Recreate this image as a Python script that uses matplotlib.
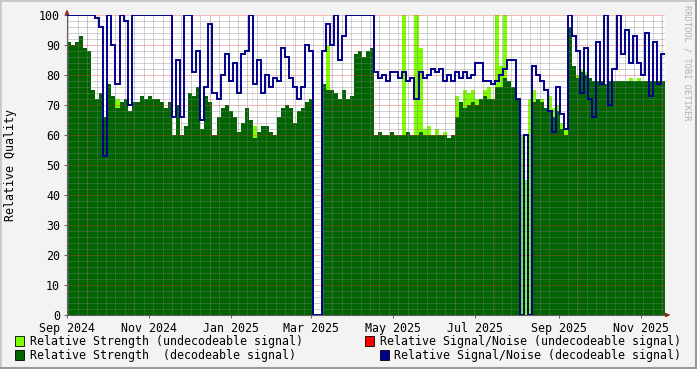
import numpy as np
import pandas as pd
import matplotlib
matplotlib.use('Agg')
import matplotlib.pyplot as plt
import matplotlib.dates as mdates
from matplotlib.ticker import MultipleLocator
from matplotlib.patches import Rectangle

plt.rcParams['font.family'] = ['DejaVu Sans Mono']
plt.rcParams['font.size'] = 8.4

nan = np.nan

# one sample every 3 days, starting 2024-09-01
start = '2024-09-01'
step_days = 3

# Relative Strength (decodeable signal)
strength = [91, 90, 91, 93, 89, 88, 75, 72, 74, 66,
            77, 73, 69, 71, 72, 68, 71, 71, 73, 72,
            73, 72, 72, 71, 69, 71, 60, 70, 60, 63,
            74, 73, 76, 62, 73, 71, 60, 66, 69, 70,
            68, 66, 61, 64, 69, 65, 59, 61, 63, 63,
            61, 60, 66, 69, 70, 69, 64, 68, 69, 71,
            72, 0, 0, 77, 75, 75, 74, 72, 75, 72,
            73, 87, 88, 86, 88, 89, 60, 61, 60, 60,
            61, 60, 60, 60, 61, 60, 60, 61, 60, 60,
            60, 60, 60, 60, 59, 60, 66, 71, 69, 70,
            71, 70, 72, 73, 72, 72, 76, 76, 79, 78,
            76, 72, 0, 0, 0, 71, 72, 71, 69, 68,
            66, 68, 62, 60, 96, 83, 79, 81, 80, 79,
            78, 78, 78, 77, 78, 78, 78, 78, 78, 78,
            78, 78, 78, 78, 78, 78, 78, 78]

# Relative Strength (undecodeable signal)
strength_undec = [nan, nan, nan, nan, nan, nan, nan, nan, nan, nan,
                  nan, nan, 72, nan, nan, nan, nan, nan, nan, nan,
                  nan, nan, nan, nan, nan, nan, nan, nan, nan, nan,
                  nan, nan, nan, nan, nan, nan, nan, nan, nan, nan,
                  nan, nan, nan, nan, nan, nan, 63, nan, nan, nan,
                  nan, nan, nan, nan, nan, nan, nan, nan, nan, nan,
                  nan, nan, nan, nan, 90, nan, nan, nan, nan, nan,
                  nan, nan, nan, nan, nan, nan, nan, nan, nan, nan,
                  nan, nan, nan, 100, nan, nan, 100, 89, 62, 63,
                  nan, 62, nan, 61, nan, nan, 73, nan, 75, 74,
                  75, 72, nan, 75, 76, nan, 100, 83, 100, nan,
                  nan, nan, 60, 45, 72, 75, nan, 72, nan, 73,
                  69, 70, 64, 62, nan, nan, 80, 82, 81, nan,
                  nan, nan, nan, nan, nan, nan, nan, nan, nan, 79,
                  nan, 79, nan, nan, nan, nan, nan, nan]

# Relative Signal/Noise (decodeable signal)
snr = [100, 100, 100, 100, 100, 100, 100, 99, 96, 53,
       100, 90, 77, 100, 98, 70, 100, 100, 100, 100,
       100, 100, 100, 100, 100, 100, 66, 85, 66, 100,
       100, 81, 88, 65, 76, 97, 74, 72, 80, 87,
       78, 84, 74, 87, 88, 100, 77, 85, 74, 80,
       76, 79, 78, 89, 86, 79, 76, 72, 76, 90,
       88, 0, 0, 88, 97, 90, 100, 85, 93, 100,
       100, 100, 100, 100, 100, 100, 81, 79, 80, 78,
       81, 81, 79, 81, 78, 79, 72, 81, 79, 80,
       82, 81, 82, 78, 80, 78, 81, 79, 81, 79,
       80, 84, 84, 78, 78, 77, 78, 80, 82, 85,
       85, 72, 0, 60, 0, 83, 80, 78, 75, 68,
       61, 76, 67, 62, 100, 93, 88, 74, 89, 72,
       66, 91, 77, 100, 70, 82, 100, 87, 95, 84,
       93, 84, 80, 94, 73, 91, 77, 87]

legend_labels = ['Relative Strength (undecodeable signal)',
                 'Relative Signal/Noise (undecodeable signal)',
                 'Relative Strength  (decodeable signal)',
                 'Relative Signal/Noise (decodeable signal)']
legend_colors = ['#7fff00', '#ff0000', '#006400', '#00008c']

W, H = 697, 369
fig = plt.figure(figsize=(W / 100, H / 100), dpi=100)
fig.patch.set_facecolor('#f3f3f3')
ax = fig.add_axes([67 / W, 54 / H, 598 / W, 300 / H])
ax.set_facecolor('white')

t0 = mdates.date2num(pd.Timestamp(start))
edges = t0 + step_days * np.arange(len(strength) + 1)

ax.stairs(np.nan_to_num(strength_undec), edges, fill=True, color=legend_colors[0], baseline=0, zorder=1)
ax.stairs(strength, edges, fill=True, color=legend_colors[2], baseline=0, zorder=1.1)
ax.stairs(snr, edges, baseline=None, color=legend_colors[3], lw=1.4, zorder=3)

ax.set_xlim(edges[0], edges[-1])
ax.set_ylim(0, 100)

# grid like rrdtool: dotted, drawn over the areas
gray_grid = (0.5, 0.5, 0.5, 0.3)
red_grid = (0.9, 0.2, 0.2, 0.35)
dots = (0, (1, 1.4))
ax.set_axisbelow(False)
ax.yaxis.set_major_locator(MultipleLocator(10))
ax.yaxis.set_minor_locator(MultipleLocator(2))
ax.xaxis.set_major_locator(mdates.MonthLocator(bymonth=[1, 3, 5, 7, 9, 11]))
ax.xaxis.set_major_formatter(mdates.DateFormatter('%b %Y'))
ax.xaxis.set_minor_locator(mdates.WeekdayLocator(byweekday=mdates.MO))
ax.grid(which='minor', color=gray_grid, lw=0.6, ls=dots)
ax.grid(which='major', axis='y', color=red_grid, lw=0.6, ls=dots)
for d in pd.date_range('2024-09-01', periods=15, freq='MS') + pd.Timedelta(days=15):
    ax.axvline(d, color=red_grid, lw=0.6, ls=dots, zorder=2.5)

for s in ['top', 'right']:
    ax.spines[s].set_visible(False)
for s in ['left', 'bottom']:
    ax.spines[s].set_color('#606060')
    ax.spines[s].set_linewidth(0.8)
ax.tick_params(which='major', length=2, width=0.7, color='#606060', labelsize=8.4)
ax.tick_params(axis='x', which='major', pad=3)
ax.tick_params(axis='y', which='major', pad=3)
ax.tick_params(which='minor', length=0)

# axis arrows
ax.annotate('', xy=(1 + 8 / 598, 0), xytext=(1, 0), xycoords='axes fraction',
            arrowprops=dict(arrowstyle='-|>', color='#a02020', lw=0.8, mutation_scale=6), annotation_clip=False)
ax.annotate('', xy=(0, 1 + 8 / 300), xytext=(0, 1), xycoords='axes fraction',
            arrowprops=dict(arrowstyle='-|>', color='#a02020', lw=0.8, mutation_scale=6), annotation_clip=False)

fig.text(11 / W, 1 - 165 / H, 'Relative Quality', rotation=90, ha='center', va='center', fontsize=8.4)
fig.text(687 / W, 1 - 5 / H, 'RRDTOOL / TOBI OETIKER', rotation=270, ha='center', va='top',
         fontsize=6.3, color='#b0b0b0')

# legend
rows = [(15, 341, 30), (365, 341, 380), (15, 355, 30), (380, 355, 394)]
for (bx, by, tx), lab, col in zip(rows, legend_labels, legend_colors):
    fig.add_artist(Rectangle((bx / W, 1 - (by + 5) / H), 9 / W, 10 / H, transform=fig.transFigure,
                             facecolor=col, edgecolor='black', lw=0.6))
    fig.text(tx / W, 1 - by / H, lab, ha='left', va='center', fontsize=8.4)

# frame
fig.add_artist(Rectangle((0, 0), 1, 1, transform=fig.transFigure, fill=False, edgecolor='#c8c8c8', lw=2))
fig.add_artist(plt.Line2D([0, 1], [0.002, 0.002], transform=fig.transFigure, color='#9a9a9a', lw=1.5))
fig.add_artist(plt.Line2D([0.998, 0.998], [0, 1], transform=fig.transFigure, color='#9a9a9a', lw=1.5))

fig.savefig('out.png', dpi=100, facecolor=fig.get_facecolor())
